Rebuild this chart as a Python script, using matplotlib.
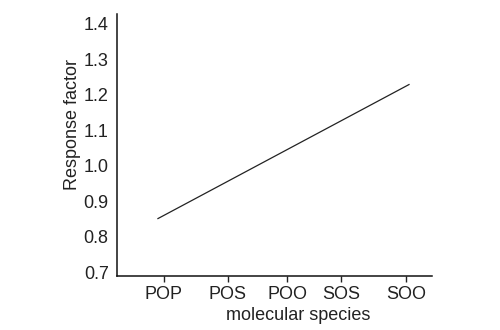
import matplotlib.pyplot as plt

# categories on the x axis and where each tick sits (axis runs 0..10)
species = ['POP', 'POS', 'POO', 'SOS', 'SOO']
species_pos = [1.49, 3.52, 5.40, 7.11, 9.17]

# the fitted response line (start and end)
line_x = [1.30, 9.27]
line_y = [0.851, 1.229]

y_ticks = [0.7, 0.8, 0.9, 1.0, 1.1, 1.2, 1.3, 1.4]

plt.rcParams['font.family'] = ['Liberation Sans', 'DejaVu Sans']

fig = plt.figure(figsize=(5, 3.3), dpi=100)
ax = fig.add_axes([0.234, 0.1636, 0.63, 0.794])

ax.plot(line_x, line_y, color='#222222', linewidth=0.9)

ax.set_xlim(0, 10)
ax.set_ylim(0.689, 1.428)
ax.set_xticks(species_pos)
ax.set_xticklabels(species)
ax.set_yticks(y_ticks)
ax.set_yticklabels(['%.1f' % v for v in y_ticks])

ax.spines['top'].set_visible(False)
ax.spines['right'].set_visible(False)
for s in ['left', 'bottom']:
    ax.spines[s].set_linewidth(1.1)
    ax.spines[s].set_color('#111111')

ax.tick_params(axis='y', length=0, pad=6, labelsize=13, colors='#222222')
ax.tick_params(axis='x', length=4, width=1, pad=3, labelsize=13, colors='#222222')

ax.set_ylabel('Response factor', fontsize=13, color='#222222')
ax.set_xlabel('molecular species', fontsize=13, color='#222222')
ax.yaxis.set_label_coords(-0.115, 0.58)
ax.xaxis.set_label_coords(0.575, -0.118)

fig.savefig('out.png', dpi=100)
